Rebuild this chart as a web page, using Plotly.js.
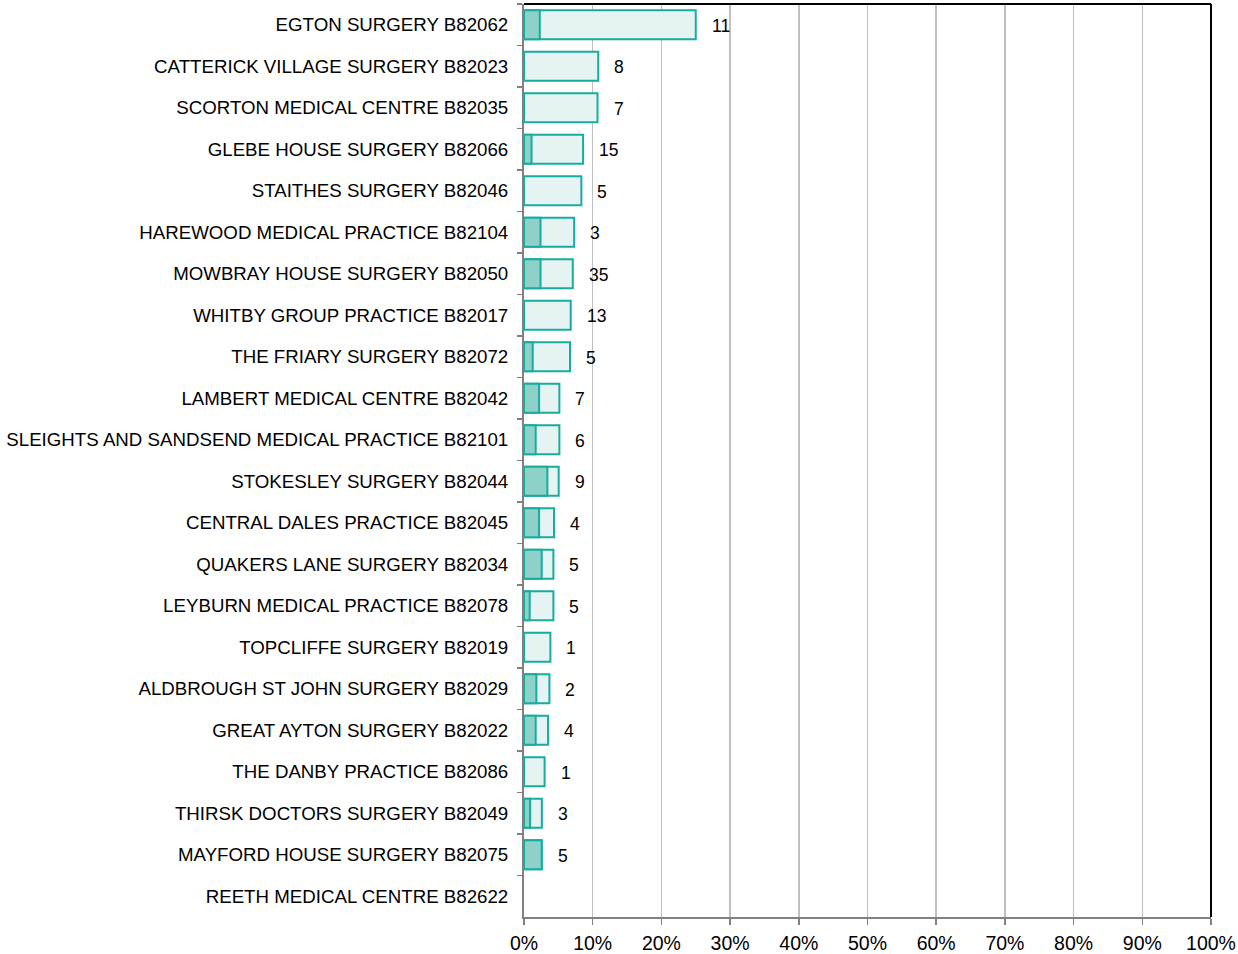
<!DOCTYPE html>
<html>
<head>
<meta charset="utf-8">
<script src="https://cdn.plot.ly/plotly-3.0.1.min.js"></script>
<style>
    html, body { margin: 0; padding: 0; background: #ffffff; }
    #chart { width: 1238px; height: 954px; }
</style>
</head>
<body>
<div id="chart"></div>
<script>
// practices, top to bottom
const practices = [
    'EGTON SURGERY B82062',
    'CATTERICK VILLAGE SURGERY B82023',
    'SCORTON MEDICAL CENTRE B82035',
    'GLEBE HOUSE SURGERY B82066',
    'STAITHES SURGERY B82046',
    'HAREWOOD MEDICAL PRACTICE B82104',
    'MOWBRAY HOUSE SURGERY B82050',
    'WHITBY GROUP PRACTICE B82017',
    'THE FRIARY SURGERY B82072',
    'LAMBERT MEDICAL CENTRE B82042',
    'SLEIGHTS AND SANDSEND MEDICAL PRACTICE B82101',
    'STOKESLEY SURGERY B82044',
    'CENTRAL DALES PRACTICE B82045',
    'QUAKERS LANE SURGERY B82034',
    'LEYBURN MEDICAL PRACTICE B82078',
    'TOPCLIFFE SURGERY B82019',
    'ALDBROUGH ST JOHN SURGERY B82029',
    'GREAT AYTON SURGERY B82022',
    'THE DANBY PRACTICE B82086',
    'THIRSK DOCTORS SURGERY B82049',
    'MAYFORD HOUSE SURGERY B82075',
    'REETH MEDICAL CENTRE B82622'
];

// outer (light) bar, percent
const outerPct = [25.0, 10.8, 10.7, 8.6, 8.35, 7.3, 7.1, 6.8, 6.7, 5.15, 5.15,
                  5.05, 4.37, 4.28, 4.28, 3.84, 3.7, 3.5, 3.0, 2.6, 2.58, 0];

// inner (dark) bar, percent
const innerPct = [2.3, 0, 0, 1.1, 0, 2.4, 2.4, 0, 1.27, 2.2, 1.7,
                  3.4, 2.2, 2.58, 0.83, 0, 1.8, 1.7, 0, 0.88, 2.58, 0];

// counts shown to the right of each bar
const counts = ['11', '8', '7', '15', '5', '3', '35', '13', '5', '7', '6',
                '9', '4', '5', '5', '1', '2', '4', '1', '3', '5', ''];

const xTicks = [0, 10, 20, 30, 40, 50, 60, 70, 80, 90, 100];

const teal = '#17ad9e';
const lightFill = '#e5f3f2';
const darkFill = '#8dd1c9';
const fontFamily = 'Liberation Sans, Arial, sans-serif';

// no outline on empty bars
const outerTrace = {
    type: 'bar',
    orientation: 'h',
    x: outerPct,
    y: practices,
    width: 0.7,
    marker: {
        color: lightFill,
        line: { color: teal, width: outerPct.map(v => v > 0 ? 2 : 0) }
    },
    hoverinfo: 'x+y'
};

const innerTrace = {
    type: 'bar',
    orientation: 'h',
    x: innerPct,
    y: practices,
    width: 0.7,
    marker: {
        color: darkFill,
        line: { color: teal, width: innerPct.map(v => v > 0 ? 2 : 0) }
    },
    hoverinfo: 'x+y'
};

const countLabels = practices.map((p, i) => ({
    x: outerPct[i],
    y: p,
    xref: 'x',
    yref: 'y',
    text: counts[i],
    showarrow: false,
    xanchor: 'left',
    xshift: 14,
    yshift: -1,
    font: { family: fontFamily, size: 17.5, color: '#000000' }
}));

const layout = {
    width: 1238,
    height: 954,
    margin: { l: 524, r: 27, t: 4, b: 37, pad: 0 },
    paper_bgcolor: '#ffffff',
    plot_bgcolor: '#ffffff',
    barmode: 'overlay',
    showlegend: false,
    font: { family: fontFamily, color: '#000000' },
    xaxis: {
        range: [0, 100],
        tickvals: xTicks,
        ticktext: xTicks.map(v => v + '%'),
        showgrid: true,
        gridcolor: '#c0c0c0',
        gridwidth: 1.5,
        zeroline: false,
        showline: true,
        linecolor: '#808080',
        linewidth: 2,
        ticks: 'outside',
        ticklen: 6,
        tickwidth: 1.5,
        tickcolor: '#808080',
        ticklabelstandoff: 2,
        tickfont: { size: 19.5, color: '#000000' },
        fixedrange: true
    },
    yaxis: {
        type: 'category',
        categoryorder: 'array',
        categoryarray: practices,
        autorange: 'reversed',
        showgrid: false,
        zeroline: false,
        showline: true,
        linecolor: '#808080',
        linewidth: 2,
        ticks: 'outside',
        tickson: 'boundaries',
        ticklen: 5,
        tickwidth: 1.5,
        tickcolor: '#808080',
        ticklabelstandoff: 10,
        tickfont: { size: 18.7, color: '#000000' },
        fixedrange: true
    },
    annotations: countLabels,
    shapes: [
        { type: 'line', xref: 'paper', yref: 'paper', x0: 0, x1: 1, y0: 1, y1: 1,
          line: { color: '#000000', width: 2 } },
        { type: 'line', xref: 'paper', yref: 'paper', x0: 1, x1: 1, y0: 0, y1: 1,
          line: { color: '#000000', width: 2 } }
    ]
};

Plotly.newPlot('chart', [outerTrace, innerTrace], layout, { displayModeBar: false, staticPlot: true });
</script>
</body>
</html>
